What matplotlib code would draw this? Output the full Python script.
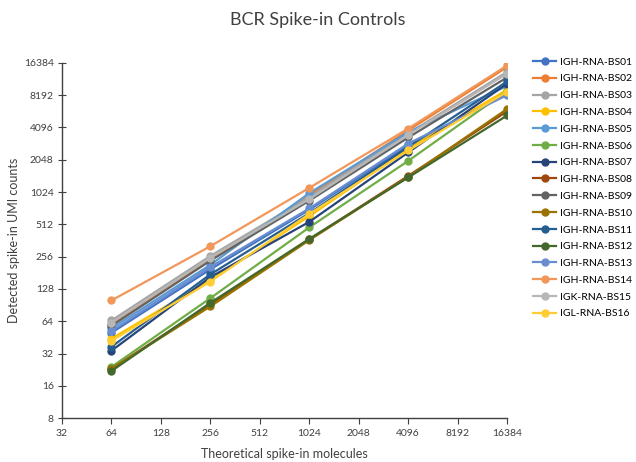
import numpy as np
import matplotlib.pyplot as plt
from matplotlib.ticker import FixedLocator, FixedFormatter, NullLocator

plt.rcParams['font.family'] = ['Lato', 'DejaVu Sans']

molecules = [64, 256, 1024, 4096, 16384]

names = ['IGH-RNA-BS01', 'IGH-RNA-BS02', 'IGH-RNA-BS03', 'IGH-RNA-BS04',
         'IGH-RNA-BS05', 'IGH-RNA-BS06', 'IGH-RNA-BS07', 'IGH-RNA-BS08',
         'IGH-RNA-BS09', 'IGH-RNA-BS10', 'IGH-RNA-BS11', 'IGH-RNA-BS12',
         'IGH-RNA-BS13', 'IGH-RNA-BS14', 'IGK-RNA-BS15', 'IGL-RNA-BS16']

bs01 = [50, 195, 700, 2800, 8500]
bs02 = [60, 240, 950, 3850, 15000]
bs03 = [65, 260, 920, 3600, 13500]
bs04 = [44, 155, 610, 2600, 9200]
bs05 = [55, 215, 1000, 3700, 10000]
bs06 = [24, 105, 480, 2000, 9000]
bs07 = [34, 165, 540, 2400, 10500]
bs08 = [23, 92, 370, 1450, 5800]
bs09 = [58, 235, 850, 3300, 12000]
bs10 = [23, 88, 365, 1420, 6100]
bs11 = [37, 175, 650, 2700, 11000]
bs12 = [22, 95, 375, 1400, 5300]
bs13 = [52, 205, 720, 2900, 8200]
bs14 = [100, 320, 1120, 4000, 15500]
bs15 = [62, 250, 880, 3500, 13000]
bs16 = [42, 150, 640, 2500, 8800]

series = [bs01, bs02, bs03, bs04, bs05, bs06, bs07, bs08,
          bs09, bs10, bs11, bs12, bs13, bs14, bs15, bs16]

colors = ['#4472C4', '#ED7D31', '#A5A5A5', '#FFC000', '#5B9BD5', '#70AD47',
          '#264478', '#9E480E', '#636363', '#997300', '#255E91', '#43682B',
          '#698ED0', '#F1975A', '#B7B7B7', '#FFCD33']

fig = plt.figure(figsize=(6.36, 4.62), dpi=100)
ax = fig.add_axes([0.0975, 0.095, 0.7, 0.769])

for vals, name, c in zip(series, names, colors):
    ax.plot(molecules, vals, color=c, lw=1.6, marker='o', ms=5, label=name)

ax.set_xscale('log', base=2)
ax.set_yscale('log', base=2)
ax.set_xlim(32, 16384)
ax.set_ylim(8, 16384)

xt = [32, 64, 128, 256, 512, 1024, 2048, 4096, 8192, 16384]
yt = [8, 16, 32, 64, 128, 256, 512, 1024, 2048, 4096, 8192, 16384]
ax.xaxis.set_major_locator(FixedLocator(xt))
ax.xaxis.set_major_formatter(FixedFormatter([str(v) for v in xt]))
ax.yaxis.set_major_locator(FixedLocator(yt))
ax.yaxis.set_major_formatter(FixedFormatter([str(v) for v in yt]))
ax.xaxis.set_minor_locator(NullLocator())
ax.yaxis.set_minor_locator(NullLocator())

for s in ['top', 'right']:
    ax.spines[s].set_visible(False)
for s in ['left', 'bottom']:
    ax.spines[s].set_color('#404040')
    ax.spines[s].set_linewidth(1.0)
ax.tick_params(axis='x', direction='out', length=4, color='#404040', labelsize=7.5, labelcolor='#404040', pad=4)
ax.tick_params(axis='y', direction='inout', length=6, color='#404040', labelsize=7.5, labelcolor='#404040', pad=3)

ax.set_xlabel('Theoretical spike-in molecules', fontsize=9, color='#404040', labelpad=7)
ax.set_ylabel('Detected spike-in UMI counts', fontsize=9, color='#404040', labelpad=3)
fig.suptitle('BCR Spike-in Controls', fontsize=13, color='#404040', x=0.5, y=0.975)

fig.legend(loc='upper left', bbox_to_anchor=(0.832, 0.885), frameon=False,
           fontsize=7.5, handlelength=2.2, labelspacing=0.72, handletextpad=0.4,
           borderaxespad=0)

fig.savefig('out.png', dpi=100)
